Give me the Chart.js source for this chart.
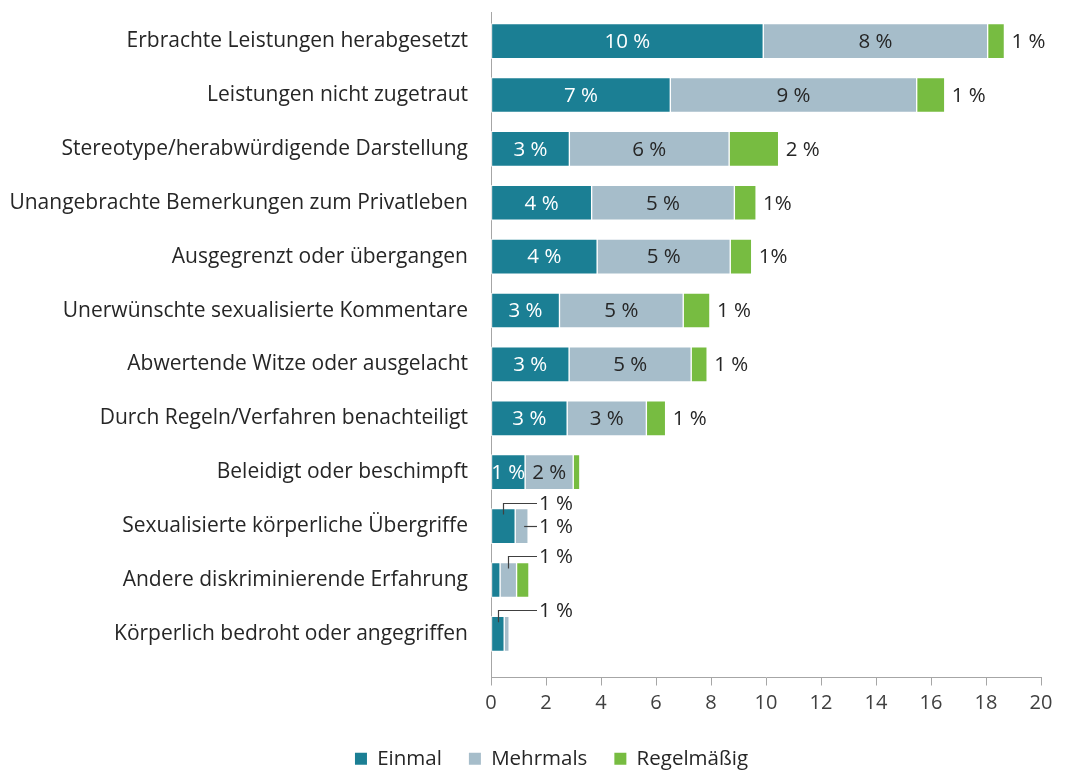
<!DOCTYPE html>
<html><head><meta charset="utf-8">
<script src="https://cdn.jsdelivr.net/npm/chart.js@4.4.0/dist/chart.umd.min.js"></script>
<style>html,body{margin:0;padding:0;background:#fff}</style>
</head><body>
<canvas id="c" width="1065" height="770"></canvas>
<script>
const categories = [
  "Erbrachte Leistungen herabgesetzt",
  "Leistungen nicht zugetraut",
  "Stereotype/herabwürdigende Darstellung",
  "Unangebrachte Bemerkungen zum Privatleben",
  "Ausgegrenzt oder übergangen",
  "Unerwünschte sexualisierte Kommentare",
  "Abwertende Witze oder ausgelacht",
  "Durch Regeln/Verfahren benachteiligt",
  "Beleidigt oder beschimpft",
  "Sexualisierte körperliche Übergriffe",
  "Andere diskriminierende Erfahrung",
  "Körperlich bedroht oder angegriffen"
];
const seriesNames = ["Einmal", "Mehrmals", "Regelmäßig"];
const einmal     = [9.90, 6.52, 2.85, 3.66, 3.86, 2.49, 2.84, 2.77, 1.24, 0.88, 0.33, 0.48];
const mehrmals   = [8.16, 8.96, 5.81, 5.19, 4.84, 4.50, 4.44, 2.88, 1.75, 0.47, 0.60, 0.18];
const regelmaess = [0.61, 1.02, 1.80, 0.79, 0.78, 0.97, 0.58, 0.70, 0.24, 0.00, 0.45, 0.00];
const einmalLabels     = ["10 %", "7 %", "3 %", "4 %", "4 %", "3 %", "3 %", "3 %", "1 %", "1 %", "", "1 %"];
const mehrmalsLabels   = ["8 %", "9 %", "6 %", "5 %", "5 %", "5 %", "5 %", "3 %", "2 %", "1 %", "1 %", ""];
const regelmaessLabels = ["1 %", "1 %", "2 %", "1%", "1%", "1 %", "1 %", "1 %", "", "", "", ""];
const xTicks = [0, 2, 4, 6, 8, 10, 12, 14, 16, 18, 20];

const FONT = "'Open Sans', sans-serif";
const TXT = "#262626";
const colors = ["#1b7f94", "#a6bdca", "#77bc41"];
const values = [einmal, mehrmals, regelmaess];
const labelSets = [einmalLabels, mehrmalsLabels, regelmaessLabels];

const labelPlugin = {
  id: 'segLabels',
  afterLayout(chart) {
    if (chart.legend) { chart.legend.left += 31; chart.legend.right += 31; }
  },
  afterDatasetsDraw(chart) {
    const ctx = chart.ctx;
    const xs = chart.scales.x;
    ctx.save();
    ctx.font = "20.5px " + FONT;
    ctx.textBaseline = 'middle';
    ctx.strokeStyle = '#404040';
    ctx.lineWidth = 1.2;
    const calloutX = xs.getPixelForValue(0) + 46;
    categories.forEach((c, i) => {
      let calloutCount = 0;
      labelSets.forEach((set, d) => {
        const txt = set[i];
        if (!txt) return;
        const el = chart.getDatasetMeta(d).data[i];
        const left = Math.min(el.base, el.x), right = Math.max(el.base, el.x);
        const w = right - left;
        const top = el.y - el.height / 2;
        if (d === 2) {
          ctx.fillStyle = TXT; ctx.textAlign = 'left';
          ctx.fillText(txt, right + 7, el.y + 1);
        } else if (w >= 25) {
          ctx.fillStyle = d === 0 ? '#ffffff' : TXT; ctx.textAlign = 'center';
          ctx.fillText(txt, (left + right) / 2, el.y + 1);
        } else {
          ctx.fillStyle = TXT; ctx.textAlign = 'left';
          ctx.beginPath();
          if (calloutCount === 0) {
            const cx = Math.round((left + right) / 2) + 0.5;
            const hy = Math.round(top - 6) + 0.5;
            ctx.moveTo(cx, top + 6); ctx.lineTo(cx, hy); ctx.lineTo(calloutX, hy);
            ctx.stroke();
            ctx.fillText(txt, calloutX + 2, hy + 1);
          } else {
            const hy = Math.round(el.y) + 0.5;
            ctx.moveTo(right - 4, hy); ctx.lineTo(calloutX, hy);
            ctx.stroke();
            ctx.fillText(txt, calloutX + 2, hy + 1);
          }
          calloutCount++;
        }
      });
    });
    ctx.restore();
  }
};

new Chart(document.getElementById('c'), {
  type: 'bar',
  data: {
    datasets: seriesNames.map((name, d) => ({
      label: name,
      data: values[d].map((v, i) => ({ x: v, y: i })),
      backgroundColor: colors[d],
      borderColor: '#ffffff',
      borderWidth: 1,
      borderSkipped: false,
      barThickness: 35
    }))
  },
  options: {
    indexAxis: 'y',
    responsive: false,
    animation: false,
    layout: { padding: { left: 0, right: 24, top: 12, bottom: -9 } },
    plugins: {
      tooltip: { enabled: false },
      legend: {
        position: 'bottom',
        labels: {
          font: { family: FONT, size: 20.5 },
          color: TXT,
          boxWidth: 12, boxHeight: 12,
          padding: 27,
          generateLabels(chart) {
            return chart.data.datasets.map((ds, i) => ({
              text: ds.label, fillStyle: ds.backgroundColor, strokeStyle: ds.backgroundColor,
              lineWidth: 0, datasetIndex: i, hidden: false, fontColor: TXT
            }));
          }
        }
      }
    },
    scales: {
      x: {
        stacked: true, min: 0, max: 20,
        afterBuildTicks: s => { s.ticks = xTicks.map(v => ({ value: v })); },
        ticks: { color: '#404040', font: { family: FONT, size: 20 }, padding: 6, maxRotation: 0 },
        grid: { display: true, drawOnChartArea: false, drawTicks: true, tickLength: 8, color: '#a6a6a6' },
        border: { display: true, color: '#a6a6a6' }
      },
      y: {
        type: 'linear', stacked: true, reverse: true, bounds: 'data', offset: false,
        min: -0.54, max: 11.81,
        afterBuildTicks: s => { s.ticks = categories.map((_, i) => ({ value: i })); },
        ticks: { callback: v => categories[v], color: TXT, font: { family: FONT, size: 21 }, padding: 15, autoSkip: false },
        grid: { display: false, offset: false },
        border: { display: true, color: '#a6a6a6' },
        afterFit: s => { s.width = 491; s.paddingTop = 0; s.paddingBottom = 0; }
      }
    }
  },
  plugins: [labelPlugin]
});
</script>
</body></html>
